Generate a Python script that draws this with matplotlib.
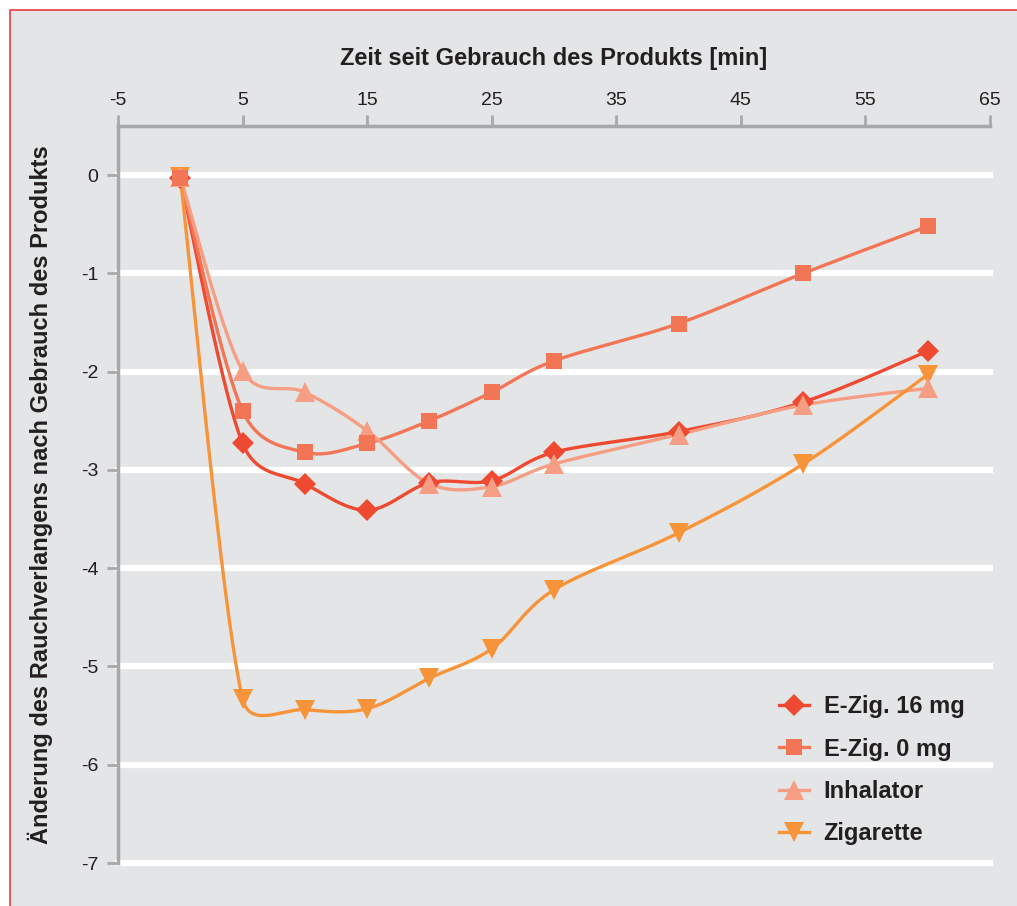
import numpy as np
import matplotlib.pyplot as plt
from matplotlib.patches import Rectangle

# time after product use [min]
minutes = [0, 5, 10, 15, 20, 25, 30, 40, 50, 60]

ezig_16 = [-0.03, -2.73, -3.14, -3.41, -3.13, -3.11, -2.82, -2.61, -2.31, -1.79]
ezig_0 = [-0.03, -2.40, -2.82, -2.73, -2.50, -2.21, -1.89, -1.51, -1.00, -0.52]
inhalator = [-0.02, -1.99, -2.21, -2.60, -3.14, -3.17, -2.94, -2.64, -2.34, -2.17]
zigarette = [-0.02, -5.33, -5.44, -5.43, -5.12, -4.82, -4.22, -3.64, -2.94, -2.03]

series_names = ["E-Zig. 16 mg", "E-Zig. 0 mg", "Inhalator", "Zigarette"]
x_ticks = [-5, 5, 15, 25, 35, 45, 55, 65]
y_ticks = [0, -1, -2, -3, -4, -5, -6, -7]

BG = "#e4e5e7"
AXIS_GRAY = "#a7a8aa"
TEXT = "#231f20"


def _clamp(v, limit):
    n = np.hypot(*v)
    return v * (limit / n) if n > limit else v


def smooth(ax, xs, ys, n=40):
    # smoothed line like a spreadsheet chart: Catmull-Rom Bezier segments whose
    # control arms are capped relative to the segment, computed in screen pixels
    p = ax.transData.transform(np.column_stack([xs, ys]).astype(float))
    out = [p[0]]
    for i in range(len(p) - 1):
        p0 = p[i - 1] if i > 0 else p[i]
        p1, p2 = p[i], p[i + 1]
        p3 = p[i + 2] if i + 2 < len(p) else p[i + 1]
        lim = np.hypot(*(p2 - p1)) / 2
        c1 = p1 + _clamp((p2 - p0) / 6, lim)
        c2 = p2 - _clamp((p3 - p1) / 6, lim)
        t = np.linspace(0, 1, n)[1:, None]
        seg = ((1 - t) ** 3) * p1 + 3 * ((1 - t) ** 2) * t * c1 + 3 * (1 - t) * t ** 2 * c2 + t ** 3 * p2
        out.extend(seg)
    out = ax.transData.inverted().transform(np.array(out))
    return out[:, 0], out[:, 1]


plt.rcParams["font.family"] = ["Liberation Sans", "DejaVu Sans"]
plt.rcParams["axes.unicode_minus"] = False

fig = plt.figure(figsize=(10.17, 9.06), dpi=100)
fig.patch.set_facecolor("white")
fig.patches.append(Rectangle((9.5 / 1017, -0.01), 1.02, 1 - 10 / 906 + 0.01,
                             transform=fig.transFigure, facecolor=BG,
                             edgecolor="#ea3b45", linewidth=1.2, zorder=-10))

ax = fig.add_axes([118 / 1017, 1 - 863 / 906, (990 - 118) / 1017, (863 - 126) / 906])
ax.set_facecolor(BG)
ax.set_xlim(-5, 65)
ax.set_ylim(-7, 0.5)

styles = [
    (ezig_16, "#ee4a32", "D", 11, 4),
    (ezig_0, "#f27656", "s", 12, 6),
    (inhalator, "#f59e84", "^", 14, 5),
    (zigarette, "#f7943a", "v", 14, 4.5),
]

for (vals, color, marker, ms, z), name in zip(styles, series_names):
    sx, sy = smooth(ax, minutes, vals)
    ax.plot(sx, sy, color=color, lw=2.4, zorder=3)
    ax.plot(minutes, vals, linestyle="none", marker=marker, ms=ms, color=color,
            markeredgewidth=0, zorder=z)
    ax.plot([], [], color=color, lw=2.4, marker=marker, ms=ms, markeredgewidth=0, label=name)

ax.set_xlim(-5, 65)
ax.set_ylim(-7, 0.5)
ax.set_xticks(x_ticks)
ax.set_yticks(y_ticks)
ax.xaxis.tick_top()
ax.xaxis.set_label_position("top")

ax.tick_params(axis="both", colors=AXIS_GRAY, labelcolor=TEXT, labelsize=14,
               length=8, width=2)
ax.tick_params(axis="x", pad=4)
ax.tick_params(axis="y", pad=6)

for side in ["right", "bottom"]:
    ax.spines[side].set_visible(False)
for side in ["left", "top"]:
    ax.spines[side].set_color(AXIS_GRAY)
    ax.spines[side].set_linewidth(2.5)

ax.yaxis.grid(True, color="white", lw=4.5, zorder=0)
ax.set_axisbelow(True)
for gl in ax.get_ygridlines():
    gl.set_clip_on(False)

ax.set_xlabel("Zeit seit Gebrauch des Produkts [min]", fontsize=17, fontweight="bold",
              color=TEXT, labelpad=20)
ax.set_ylabel("Änderung des Rauchverlangens nach Gebrauch des Produkts", fontsize=17,
              fontweight="bold", color=TEXT, labelpad=20)

leg = ax.legend(loc="lower right", bbox_to_anchor=(0.995, -0.005), frameon=False,
                handlelength=1.3, labelspacing=0.82, handletextpad=0.6,
                prop={"weight": "bold", "size": 17})
for t in leg.get_texts():
    t.set_color(TEXT)

fig.savefig("out.png", dpi=100, facecolor=fig.get_facecolor())
